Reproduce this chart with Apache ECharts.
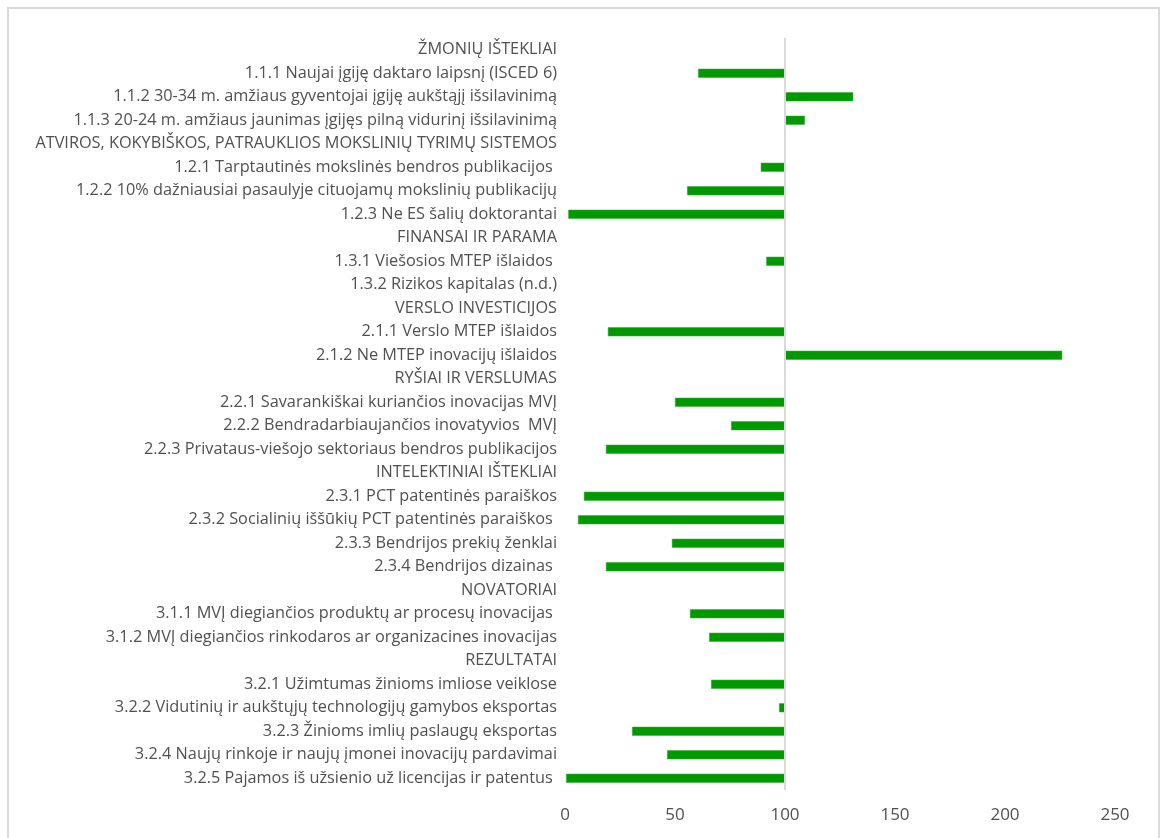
<!DOCTYPE html>
<html>
<head>
<meta charset="utf-8">
<script src="https://cdn.jsdelivr.net/npm/echarts@6/dist/echarts.min.js"></script>
<style>html,body{margin:0;padding:0;background:#fff;}#c{width:1161px;height:838px;}</style>
</head>
<body>
<div id="c"></div>
<script>
const categories = [
  "ŽMONIŲ IŠTEKLIAI",
  "1.1.1 Naujai įgiję daktaro laipsnį (ISCED 6)",
  "1.1.2 30-34 m. amžiaus gyventojai įgiję aukštąjį išsilavinimą",
  "1.1.3 20-24 m. amžiaus jaunimas įgijęs pilną vidurinį išsilavinimą",
  "ATVIROS, KOKYBIŠKOS, PATRAUKLIOS MOKSLINIŲ TYRIMŲ SISTEMOS",
  "1.2.1 Tarptautinės mokslinės bendros publikacijos ",
  "1.2.2 10% dažniausiai pasaulyje cituojamų mokslinių publikacijų",
  "1.2.3 Ne ES šalių doktorantai",
  "FINANSAI IR PARAMA",
  "1.3.1 Viešosios MTEP išlaidos ",
  "1.3.2 Rizikos kapitalas (n.d.)",
  "VERSLO INVESTICIJOS",
  "2.1.1 Verslo MTEP išlaidos",
  "2.1.2 Ne MTEP inovacijų išlaidos",
  "RYŠIAI IR VERSLUMAS",
  "2.2.1 Savarankiškai kuriančios inovacijas MVĮ",
  "2.2.2 Bendradarbiaujančios inovatyvios  MVĮ",
  "2.2.3 Privataus-viešojo sektoriaus bendros publikacijos",
  "INTELEKTINIAI IŠTEKLIAI",
  "2.3.1 PCT patentinės paraiškos",
  "2.3.2 Socialinių iššūkių PCT patentinės paraiškos ",
  "2.3.3 Bendrijos prekių ženklai",
  "2.3.4 Bendrijos dizainas ",
  "NOVATORIAI",
  "3.1.1 MVĮ diegiančios produktų ar procesų inovacijas ",
  "3.1.2 MVĮ diegiančios rinkodaros ar organizacines inovacijas",
  "REZULTATAI",
  "3.2.1 Užimtumas žinioms imliose veiklose",
  "3.2.2 Vidutinių ir aukštųjų technologijų gamybos eksportas",
  "3.2.3 Žinioms imlių paslaugų eksportas",
  "3.2.4 Naujų rinkoje ir naujų įmonei inovacijų pardavimai",
  "3.2.5 Pajamos iš užsienio už licencijas ir patentus "
];
// index values (EU = 100); null = no bar
const values = [
  null, 60.5, 131, 109,
  null, 89, 55.5, 1.5,
  null, 91.5, null,
  null, 19.5, 226,
  null, 50, 75.5, 18.6,
  null, 8.6, 5.9, 48.6, 18.6,
  null, 56.8, 65.5,
  null, 66.4, 97.3, 30.5, 46.4, 0.5
];
const xTicks = [0, 50, 100, 150, 200, 250];
const baseline = 100;

const baseData = values.map(v => v == null ? null : Math.min(v, baseline));
const deltaData = values.map(v => v == null ? null : Math.abs(v - baseline));

const chart = echarts.init(document.getElementById('c'));
chart.setOption({
  animation: false,
  graphic: [{
    type: 'rect',
    shape: { x: 8, y: 8, width: 1151, height: 860 },
    style: { fill: 'none', stroke: '#d9d9d9', lineWidth: 2 },
    silent: true
  }],
  grid: { left: 565, right: 46, top: 38, bottom: 48, containLabel: false },
  xAxis: {
    type: 'value',
    min: xTicks[0], max: xTicks[xTicks.length - 1], interval: 50,
    axisLine: { show: false }, axisTick: { show: false },
    splitLine: { show: false },
    axisLabel: { color: '#505050', fontSize: 17, fontFamily: 'Open Sans', margin: 17 }
  },
  yAxis: {
    type: 'category',
    inverse: true,
    data: categories,
    axisLine: { show: false }, axisTick: { show: false },
    axisLabel: { color: '#505050', fontSize: 16.3, fontFamily: 'Open Sans', margin: 8, interval: 0 }
  },
  series: [
    {
      type: 'bar', stack: 's', data: baseData, barWidth: 9,
      itemStyle: { color: 'rgba(0,0,0,0)' }, silent: true,
      markLine: {
        silent: true, symbol: 'none', label: { show: false },
        lineStyle: { color: '#d9d9d9', width: 2, type: 'solid' },
        data: [{ xAxis: baseline }]
      }
    },
    {
      type: 'bar', stack: 's', data: deltaData, barWidth: 9,
      itemStyle: { color: '#009900', borderColor: '#33ad33', borderWidth: 0.5 }
    }
  ]
});
</script>
</body>
</html>
